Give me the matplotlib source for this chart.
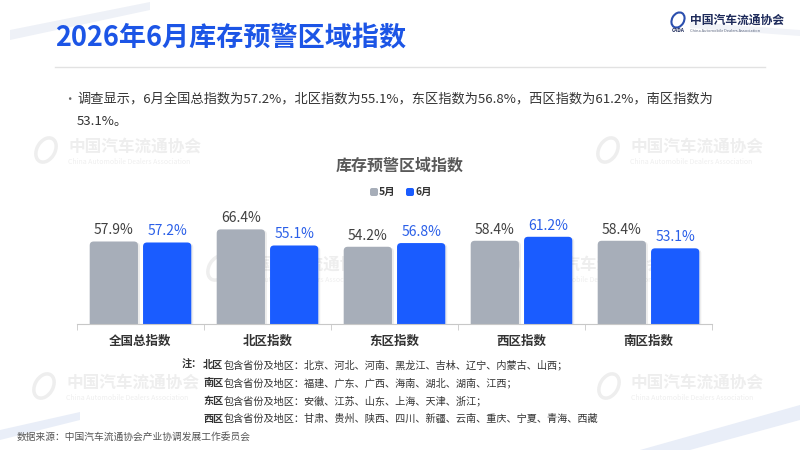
import matplotlib
matplotlib.use("Agg")
import matplotlib.pyplot as plt
import numpy as np
from matplotlib.patches import FancyBboxPatch, Polygon, Ellipse

plt.rcParams['font.family'] = ['Noto Sans CJK SC', 'DejaVu Sans']

# data
categories = ['全国总指数', '北区指数', '东区指数', '西区指数', '南区指数']
may_vals = [57.9, 66.4, 54.2, 58.4, 58.4]
june_vals = [57.2, 55.1, 56.8, 61.2, 53.1]
series_names = ['5月', '6月']

title = '2026年6月库存预警区域指数'
summary_1 = '调查显示，6月全国总指数为57.2%，北区指数为55.1%，东区指数为56.8%，西区指数为61.2%，南区指数为'
summary_2 = '53.1%。'
chart_title = '库存预警区域指数'
note_regions = ['北区', '南区', '东区', '西区']
note_lists = ['包含省份及地区：北京、河北、河南、黑龙江、吉林、辽宁、内蒙古、山西；',
              '包含省份及地区：福建、广东、广西、海南、湖北、湖南、江西；',
              '包含省份及地区：安徽、江苏、山东、上海、天津、浙江；',
              '包含省份及地区：甘肃、贵州、陕西、四川、新疆、云南、重庆、宁夏、青海、西藏']
source = '数据来源：中国汽车流通协会产业协调发展工作委员会'

GRAY = '#a7aeb9'
BLUE = '#1a5cff'
W, H = 800, 450

fig = plt.figure(figsize=(8, 4.5), dpi=100)
fig.patch.set_facecolor('white')


def fx(x):
    return x / W


def fy(y):
    return 1 - y / H


# faint background bands, pixel coords
bg = fig.add_axes([0, 0, 1, 1], zorder=0)
bg.set_xlim(0, W)
bg.set_ylim(H, 0)
bg.axis('off')
bg.add_patch(Polygon([[10, 40], [150, 10], [150, 2], [10, 30]], closed=True, color='#eef1f7', lw=0))
bg.add_patch(Polygon([[0, 430], [80, 412], [80, 420], [0, 440]], closed=True, color='#e9eef8', lw=0))
bg.add_patch(Polygon([[640, 450], [800, 405], [800, 420], [690, 450]], closed=True, color='#e9eef8', lw=0))
bg.add_patch(Polygon([[690, 22], [800, 30], [800, 36], [690, 28]], closed=True, color='#f1f3f8', lw=0))

# watermarks
for (wx, wy) in [(68, 147), (630, 147), (66, 383), (631, 383), (240, 265), (530, 265)]:
    bg.add_patch(Ellipse((wx - 22, wy + 3), 18, 26, angle=30, fill=False, ec='#eeeeee', lw=2.5))
    bg.text(wx, wy, '中国汽车流通协会', fontsize=12, color='#eeeeee', ha='left', va='center',
            fontweight='bold')
    bg.text(wx, wy + 15, 'China Automobile Dealers Association', fontsize=5, color='#efefef',
            ha='left', va='center')

# logo top right
bg.add_patch(Ellipse((678, 20), 12, 16, angle=30, fill=False, ec='#2b4fae', lw=1.5))
bg.text(672, 31, 'CADA', fontsize=3.5, color='#1d2a5a', fontweight='bold', style='italic', va='center')
bg.text(690, 20, '中国汽车流通协会', fontsize=8.5, color='#1d2a5a', fontweight='bold', va='center')
bg.text(690, 31, 'China Automobile Dealers Association', fontsize=2.8, color='#55607a', va='center')

# header
fig.text(fx(55), fy(38), title, fontsize=19.5, fontweight='bold', color='#1c55e6', va='center', ha='left')
bg.plot([55, 765], [67, 67], color='#e2e2e2', lw=1)
fig.text(fx(63), fy(99), '•', fontsize=9, color='#666666', va='center', ha='left')
fig.text(fx(77), fy(99), summary_1, fontsize=9.5, color='#333333', va='center', ha='left')
fig.text(fx(77), fy(121), summary_2, fontsize=9.5, color='#333333', va='center', ha='left')

# chart title and legend
fig.text(fx(400), fy(166), chart_title, fontsize=11.5, fontweight='bold', color='#595959',
         va='center', ha='center')
leg_x = [370, 406]
for lx, name, col in zip(leg_x, series_names, [GRAY, BLUE]):
    bg.add_patch(FancyBboxPatch((lx, 188), 8, 8, boxstyle='round,pad=0,rounding_size=2',
                                fc=col, ec='none'))
    bg.text(lx + 9, 192, name, fontsize=7.5, fontweight='bold', color='#333333', va='center', ha='left')

# bar axes: baseline at y=324, x from 77 to 712
px_per_unit = 1.425
top_px = 200
ax = fig.add_axes([fx(77), fy(324), (712 - 77) / W, (324 - top_px) / H], zorder=2)
ax.patch.set_alpha(0)
ax.set_xlim(-0.5, len(categories) - 0.5)
ax.set_ylim(0, (324 - top_px) / px_per_unit)

x = np.arange(len(categories))
bw = 0.38
off = 0.21
bars_may = ax.bar(x - off, may_vals, bw, color=GRAY)
bars_june = ax.bar(x + off, june_vals, bw, color=BLUE)

# swap plain bars for rounded-top ones
x_per_px = (len(categories)) / (712 - 77)
y_per_px = 1 / px_per_unit
r = 4 * x_per_px
for rect in list(bars_may) + list(bars_june):
    bx, bwid, bh = rect.get_x(), rect.get_width(), rect.get_height()
    col = rect.get_facecolor()
    rect.set_visible(False)
    sh = FancyBboxPatch((bx + 2 * x_per_px, -5), bwid, bh + 5 - 1 * y_per_px,
                        boxstyle=f'round,pad=0,rounding_size={r}',
                        mutation_aspect=y_per_px / x_per_px, fc='#000000', alpha=0.07, ec='none')
    ax.add_patch(sh)
    fb = FancyBboxPatch((bx, -5), bwid, bh + 5, boxstyle=f'round,pad=0,rounding_size={r}',
                        mutation_aspect=y_per_px / x_per_px, fc=col, ec='none')
    ax.add_patch(fb)

for xi, v in zip(x - off, may_vals):
    ax.annotate(f'{v:.1f}%', (xi, v), xytext=(0, 3), textcoords='offset points',
                ha='center', va='bottom', fontsize=10, color='#404040')
for xi, v in zip(x + off, june_vals):
    ax.annotate(f'{v:.1f}%', (xi, v), xytext=(0, 3), textcoords='offset points',
                ha='center', va='bottom', fontsize=10, color='#2a5fe8')

for s in ['top', 'right', 'left']:
    ax.spines[s].set_visible(False)
ax.spines['bottom'].set_color('#c8c8c8')
ax.set_yticks([])
ax.set_xticks(np.arange(len(categories) + 1) - 0.5, minor=True)
ax.set_xticks(x)
ax.set_xticklabels(categories, fontsize=9, fontweight='bold', color='#333333')
ax.tick_params(axis='x', which='major', length=0, pad=8)
ax.tick_params(axis='x', which='minor', length=4, color='#c8c8c8', direction='out')

# notes: bold region name, then the list right after it
fig.text(fx(182), fy(365), '注：', fontsize=7.3, fontweight='bold', color='#333333', va='center', ha='left')
for i, (reg, lst) in enumerate(zip(note_regions, note_lists)):
    yy = 365 + 18 * i
    t = bg.text(203, yy, reg, fontsize=7.3, fontweight='bold', color='#333333',
                va='center', ha='left')
    bg.annotate(lst, xy=(1, 0.5), xycoords=t, xytext=(0, 0), textcoords='offset points',
                fontsize=7.3, color='#333333', va='center', ha='left')

fig.text(fx(17), fy(437), source, fontsize=7, color='#555555', va='center', ha='left')

fig.savefig('out.png', dpi=100)
